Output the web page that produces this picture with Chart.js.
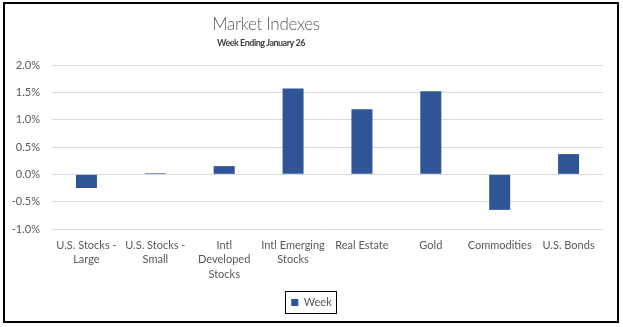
<!DOCTYPE html>
<html>
<head>
<meta charset="utf-8">
<script src="https://cdn.jsdelivr.net/npm/chart.js@4/dist/chart.umd.min.js"></script>
<style>
  html, body { margin: 0; padding: 0; background: #fff; }
  #frame {
    position: absolute; left: 3px; top: 2px;
    width: 612px; height: 317px;
    border: 2px solid #000;
  }
  canvas { display: block; }
</style>
</head>
<body>
<div id="frame"><canvas id="chart" width="612" height="317"></canvas></div>
<script>
const categories = [
    ['U.S. Stocks -', 'Large'],
    ['U.S. Stocks -', 'Small'],
    ['Intl', 'Developed', 'Stocks'],
    ['Intl Emerging', 'Stocks'],
    'Real Estate',
    'Gold',
    'Commodities',
    'U.S. Bonds'
];
const weekReturns = [-0.25, 0.02, 0.15, 1.57, 1.19, 1.52, -0.65, 0.37];
const seriesName = 'Week';
const chartTitle = 'Market Indexes';
const chartSubtitle = 'Week Ending January 26';

const textGray = '#595959';
const barBlue = '#2F5597';

// heading text, placed a little left of centre
const headingPlugin = {
    id: 'heading',
    afterDraw(chart) {
        const ctx = chart.ctx;
        ctx.save();
        ctx.textAlign = 'center';
        ctx.textBaseline = 'middle';
        ctx.fillStyle = textGray;
        ctx.font = '300 17px Lato';
        ctx.letterSpacing = '-0.3px';
        ctx.fillText(chartTitle, 261, 21);
        ctx.fillStyle = '#404040';
        ctx.font = 'bold 9px Lato';
        ctx.letterSpacing = '-0.5px';
        ctx.fillText(chartSubtitle, 256, 39);
        ctx.restore();
    }
};

// centre the legend on the canvas and frame its entry
const legendFramePlugin = {
    id: 'legendFrame',
    afterLayout(chart) {
        const legend = chart.legend;
        if (!legend) return;
        legend.left += 5;
        legend.right += 5;
    },
    afterDraw(chart) {
        const boxes = chart.legend && chart.legend.legendHitBoxes;
        if (!boxes || !boxes.length) return;
        const b = boxes[0];
        const ctx = chart.ctx;
        ctx.save();
        ctx.strokeStyle = '#000';
        ctx.lineWidth = 1;
        ctx.strokeRect(Math.round(b.left) - 5.5, Math.round(b.top) - 5.5,
            Math.round(b.width) + 11, Math.round(b.height) + 11);
        ctx.restore();
    }
};

const ctx = document.getElementById('chart').getContext('2d');
new Chart(ctx, {
    type: 'bar',
    data: {
        labels: categories,
        datasets: [{
            label: seriesName,
            data: weekReturns,
            backgroundColor: barBlue,
            borderWidth: 0,
            categoryPercentage: 1,
            barPercentage: 0.305
        }]
    },
    options: {
        responsive: false,
        animation: false,
        layout: { padding: { left: 5, right: 14, top: 61, bottom: 3 } },
        plugins: {
            title: { display: false },
            tooltip: { enabled: false },
            legend: {
                position: 'bottom',
                labels: {
                    boxWidth: 7,
                    boxHeight: 7,
                    padding: 6,
                    color: textGray,
                    font: { family: 'Lato', size: 11 }
                }
            }
        },
        scales: {
            x: {
                grid: { display: false, drawTicks: false },
                border: { display: false },
                ticks: {
                    color: textGray,
                    font: { family: 'Lato', size: 11, lineHeight: 1.32 },
                    padding: 9,
                    maxRotation: 0,
                    autoSkip: false
                },
                afterFit(scale) { scale.height = 62; }
            },
            y: {
                min: -1,
                max: 2,
                grid: { color: '#D9D9D9', drawTicks: false },
                border: { display: false },
                ticks: {
                    stepSize: 0.5,
                    padding: 12,
                    color: textGray,
                    font: { family: 'Lato', size: 11 },
                    callback: v => v.toFixed(1) + '%'
                },
                afterFit(scale) { scale.width = 42; }
            }
        }
    },
    plugins: [headingPlugin, legendFramePlugin]
});
</script>
</body>
</html>
